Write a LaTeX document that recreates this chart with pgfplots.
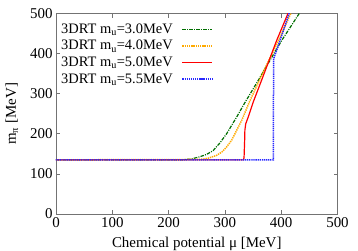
\documentclass[border=0pt]{standalone}
\usepackage{fontspec}
\setmainfont{Liberation Serif}
\usepackage{pgfplots}
\pgfplotsset{compat=1.18}
\definecolor{cgreen}{RGB}{0,110,0}
\definecolor{corange}{RGB}{255,170,0}
\definecolor{cred}{RGB}{255,0,0}
\definecolor{cblue}{RGB}{40,40,255}
\newcommand{\lf}{\fontsize{14.5}{17}\selectfont}
\begin{document}
\begin{tikzpicture}
\begin{axis}[
  scale only axis,
  width=281.5bp, height=200.5bp,
  xmin=0, xmax=500, ymin=0, ymax=500,
  xtick={0,100,...,500}, ytick={0,100,...,500},
  tick align=inside,
  major tick length=4bp,
  axis line style={black!55, line width=0.8bp},
  every tick/.style={black!55, line width=0.8bp},
  /pgf/number format/assume math mode=true,
  tick label style={font=\fontsize{15}{18}\selectfont},
  label style={font=\fontsize{15}{18}\selectfont},
  xlabel={Chemical potential μ [MeV]},
  ylabel={m\textsubscript{π} [MeV]},
  xlabel style={yshift=-3bp},
  ylabel style={yshift=5bp},
  clip=true,
  legend plot pos=right,
  legend cell align=left,
  legend style={at={(axis description cs:0,1)}, anchor=north west, draw=none, fill=none,
    font=\lf, row sep=1.5bp, inner xsep=3bp, inner ysep=8bp,
    /tikz/every odd column/.append style={column sep=7bp}},
  legend image code/.code={\draw[#1] (0bp,0bp) -- (30bp,0bp);},
]
\addplot[cgreen, line width=1.2bp, dash pattern=on 3.5bp off 1.2bp on 1bp off 1.2bp] coordinates {
(0,135) (220,135) (240,137) (256,143) (268,149) (279,158) (291,177) (303,200) (321,242) (336,279) (360,335) (380,383) (401,433) (432,500) (440,518)};
\addlegendentry{3DRT m\textsubscript{u}=3.0MeV}
\addplot[corange, line width=1.5bp, dash pattern=on 1.3bp off 0.9bp] coordinates {
(0,135) (255,136) (270,139) (285,146) (295,155) (303,167) (312,184) (330,234) (344,281) (370,360) (395,432) (417,500) (423,518)};
\addlegendentry{3DRT m\textsubscript{u}=4.0MeV}
\addplot[cred, line width=1.2bp] coordinates {
(0,135) (333,135) (334,140) (335,180) (335.5,209) (337,225) (341.5,242) (350,278) (365,333) (392,433) (412,500) (418,520)};
\addlegendentry{3DRT m\textsubscript{u}=5.0MeV}
\addplot[cblue, line width=1.5bp, dash pattern=on 1.3bp off 0.8bp] coordinates {
(0,135) (386,135) (386.5,387) (398,433) (414,500) (419,520)};
\addlegendentry{3DRT m\textsubscript{u}=5.5MeV}
\end{axis}
\pgfresetboundingbox
\path[use as bounding box] (current axis.south west) ++(-56bp,-37bp) rectangle ([xshift=20.5bp,yshift=13.5bp]current axis.north east);
\end{tikzpicture}
\end{document}
